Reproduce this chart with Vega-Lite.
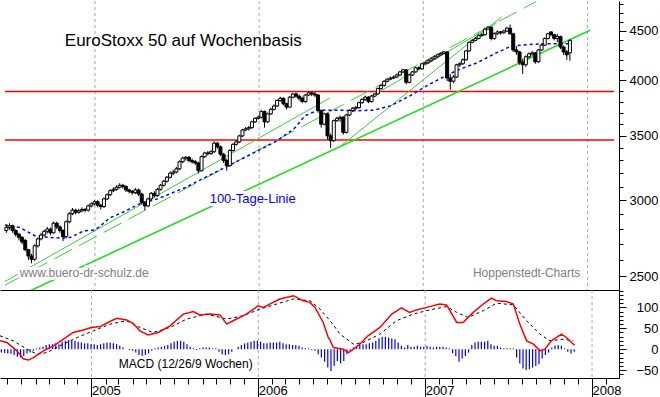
{
  "$schema": "https://vega.github.io/schema/vega-lite/v6.json",
  "padding": 0,
  "spacing": 0,
  "bounds": "flush",
  "background": "white",
  "config": {
    "view": {"stroke": null},
    "font": "Liberation Sans",
    "axis": {"labelFont": "Liberation Sans", "labelFontSize": 13, "labelColor": "black", "domainColor": "black", "tickColor": "black", "grid": false, "labelOverlap": false, "labelFlush": false, "labelBound": false}
  },
  "datasets": {
    "years": [{"d": "2005-01-01"}, {"d": "2006-01-01"}, {"d": "2007-01-01"}, {"d": "2008-01-01"}],
    "levels": [{"v": 3894, "d": "2004-06-15", "d2": "2008-02-29"}, {"v": 3465, "d": "2004-06-15", "d2": "2008-02-29"}],
    "trendMain": [{"d": "2004-07-29", "v": 2401}, {"d": "2008-01-07", "v": 4508}],
    "trendSolid": [
      {"id": "a", "d": "2004-06-15", "v": 2470}, {"id": "a", "d": "2006-06-07", "v": 3832},
      {"id": "c", "d": "2006-07-02", "v": 3418}, {"id": "c", "d": "2007-06-24", "v": 4653},
      {"id": "d", "d": "2006-08-11", "v": 3779}, {"id": "d", "d": "2007-06-13", "v": 4587}
    ],
    "trendDashed": [
      {"id": "b", "d": "2004-06-15", "v": 2448}, {"id": "b", "d": "2007-09-09", "v": 4829}
    ],
    "ma": [
      {"d": "2004-06-15", "v": 2827}, {"d": "2004-07-18", "v": 2811}, {"d": "2004-08-20", "v": 2756}, {"d": "2004-09-18", "v": 2745},
      {"d": "2004-10-20", "v": 2741}, {"d": "2004-11-08", "v": 2745}, {"d": "2004-12-07", "v": 2788}, {"d": "2004-12-29", "v": 2793},
      {"d": "2005-01-09", "v": 2811}, {"d": "2005-02-03", "v": 2876}, {"d": "2005-03-04", "v": 2915}, {"d": "2005-04-10", "v": 2974},
      {"d": "2005-05-20", "v": 3010}, {"d": "2005-07-21", "v": 3093}, {"d": "2005-09-10", "v": 3181}, {"d": "2005-10-31", "v": 3270},
      {"d": "2005-12-06", "v": 3336}, {"d": "2006-01-05", "v": 3390}, {"d": "2006-02-10", "v": 3460}, {"d": "2006-03-19", "v": 3558},
      {"d": "2006-04-13", "v": 3673}, {"d": "2006-05-12", "v": 3723}, {"d": "2006-06-25", "v": 3723}, {"d": "2006-08-01", "v": 3717},
      {"d": "2006-09-13", "v": 3723}, {"d": "2006-10-20", "v": 3761}, {"d": "2006-12-02", "v": 3852}, {"d": "2007-01-15", "v": 3962},
      {"d": "2007-02-20", "v": 4041}, {"d": "2007-03-18", "v": 4097}, {"d": "2007-05-01", "v": 4171}, {"d": "2007-06-13", "v": 4272},
      {"d": "2007-07-16", "v": 4341}, {"d": "2007-08-11", "v": 4352}, {"d": "2007-09-23", "v": 4365}, {"d": "2007-11-24", "v": 4365}
    ],
    "macd": [
      {"d": "2004-06-15", "v": 20}, {"d": "2004-06-30", "v": 16}, {"d": "2004-07-22", "v": -4}, {"d": "2004-08-05", "v": -23},
      {"d": "2004-08-16", "v": -26}, {"d": "2004-08-27", "v": -20}, {"d": "2004-09-18", "v": -4}, {"d": "2004-10-10", "v": 8},
      {"d": "2004-11-01", "v": 24}, {"d": "2004-11-22", "v": 40}, {"d": "2004-12-14", "v": 46}, {"d": "2005-01-01", "v": 52},
      {"d": "2005-01-20", "v": 54}, {"d": "2005-02-03", "v": 62}, {"d": "2005-02-25", "v": 74}, {"d": "2005-03-19", "v": 70},
      {"d": "2005-04-02", "v": 62}, {"d": "2005-04-17", "v": 44}, {"d": "2005-05-05", "v": 34}, {"d": "2005-05-27", "v": 40},
      {"d": "2005-06-22", "v": 56}, {"d": "2005-07-21", "v": 84}, {"d": "2005-08-12", "v": 90}, {"d": "2005-08-26", "v": 82},
      {"d": "2005-09-17", "v": 84}, {"d": "2005-10-09", "v": 82}, {"d": "2005-10-24", "v": 60}, {"d": "2005-11-07", "v": 68},
      {"d": "2005-12-06", "v": 84}, {"d": "2006-01-01", "v": 104}, {"d": "2006-01-12", "v": 100}, {"d": "2006-01-26", "v": 108},
      {"d": "2006-02-17", "v": 120}, {"d": "2006-03-19", "v": 128}, {"d": "2006-04-09", "v": 116}, {"d": "2006-04-24", "v": 112},
      {"d": "2006-05-05", "v": 100}, {"d": "2006-05-23", "v": 64}, {"d": "2006-06-03", "v": 28}, {"d": "2006-06-07", "v": 22},
      {"d": "2006-06-14", "v": 4}, {"d": "2006-07-06", "v": 0}, {"d": "2006-07-17", "v": -8}, {"d": "2006-07-28", "v": 0},
      {"d": "2006-08-11", "v": 12}, {"d": "2006-08-29", "v": 32}, {"d": "2006-09-24", "v": 52}, {"d": "2006-10-20", "v": 84},
      {"d": "2006-11-10", "v": 99}, {"d": "2006-11-28", "v": 88}, {"d": "2006-12-13", "v": 94}, {"d": "2007-01-04", "v": 100},
      {"d": "2007-02-02", "v": 108}, {"d": "2007-02-17", "v": 106}, {"d": "2007-03-11", "v": 64}, {"d": "2007-03-25", "v": 64},
      {"d": "2007-04-16", "v": 88}, {"d": "2007-05-08", "v": 108}, {"d": "2007-05-26", "v": 122}, {"d": "2007-06-06", "v": 116},
      {"d": "2007-06-28", "v": 114}, {"d": "2007-07-13", "v": 108}, {"d": "2007-07-27", "v": 60}, {"d": "2007-08-11", "v": 20},
      {"d": "2007-08-26", "v": 12}, {"d": "2007-09-09", "v": -4}, {"d": "2007-09-20", "v": 0}, {"d": "2007-10-04", "v": 20},
      {"d": "2007-10-26", "v": 36}, {"d": "2007-11-06", "v": 28}, {"d": "2007-11-21", "v": 12}, {"d": "2007-11-24", "v": 10}
    ],
    "signal": [
      {"d": "2004-06-15", "v": 32}, {"d": "2004-07-14", "v": 20}, {"d": "2004-08-13", "v": 0}, {"d": "2004-09-04", "v": -12},
      {"d": "2004-09-26", "v": -8}, {"d": "2004-10-24", "v": 8}, {"d": "2004-12-01", "v": 28}, {"d": "2005-01-05", "v": 44},
      {"d": "2005-02-11", "v": 60}, {"d": "2005-03-19", "v": 68}, {"d": "2005-04-17", "v": 52}, {"d": "2005-05-16", "v": 40},
      {"d": "2005-06-22", "v": 52}, {"d": "2005-07-28", "v": 72}, {"d": "2005-09-10", "v": 84}, {"d": "2005-10-24", "v": 72},
      {"d": "2005-11-29", "v": 80}, {"d": "2006-01-05", "v": 96}, {"d": "2006-02-10", "v": 108}, {"d": "2006-03-19", "v": 120},
      {"d": "2006-04-24", "v": 116}, {"d": "2006-05-16", "v": 96}, {"d": "2006-06-07", "v": 68}, {"d": "2006-06-29", "v": 36},
      {"d": "2006-07-28", "v": 12}, {"d": "2006-08-18", "v": 16}, {"d": "2006-09-24", "v": 36}, {"d": "2006-10-30", "v": 68},
      {"d": "2006-12-06", "v": 84}, {"d": "2007-01-11", "v": 94}, {"d": "2007-02-17", "v": 102}, {"d": "2007-03-11", "v": 88},
      {"d": "2007-04-05", "v": 76}, {"d": "2007-05-08", "v": 92}, {"d": "2007-06-06", "v": 110}, {"d": "2007-07-13", "v": 106},
      {"d": "2007-08-11", "v": 68}, {"d": "2007-09-09", "v": 36}, {"d": "2007-10-01", "v": 20}, {"d": "2007-10-31", "v": 24},
      {"d": "2007-11-21", "v": 20}
    ],
    "candles": [
      {"d":"2004-06-18","o":2790,"h":2830,"l":2775,"c":2810,"hist":-8},
      {"d":"2004-06-25","o":2810,"h":2840,"l":2795,"c":2822,"hist":-9},
      {"d":"2004-07-02","o":2822,"h":2830,"l":2775,"c":2790,"hist":-10},
      {"d":"2004-07-09","o":2790,"h":2800,"l":2750,"c":2765,"hist":-11},
      {"d":"2004-07-16","o":2765,"h":2775,"l":2725,"c":2745,"hist":-14},
      {"d":"2004-07-23","o":2745,"h":2755,"l":2700,"c":2715,"hist":-18},
      {"d":"2004-07-30","o":2725,"h":2735,"l":2655,"c":2665,"hist":-20},
      {"d":"2004-08-06","o":2665,"h":2670,"l":2600,"c":2625,"hist":-16},
      {"d":"2004-08-13","o":2625,"h":2640,"l":2580,"c":2605,"hist":-10},
      {"d":"2004-08-20","o":2605,"h":2700,"l":2595,"c":2690,"hist":-8},
      {"d":"2004-08-27","o":2690,"h":2745,"l":2680,"c":2735,"hist":-4},
      {"d":"2004-09-03","o":2735,"h":2775,"l":2725,"c":2760,"hist":2},
      {"d":"2004-09-10","o":2760,"h":2795,"l":2750,"c":2785,"hist":4},
      {"d":"2004-09-17","o":2785,"h":2815,"l":2770,"c":2800,"hist":6},
      {"d":"2004-09-24","o":2800,"h":2810,"l":2760,"c":2775,"hist":10},
      {"d":"2004-10-01","o":2775,"h":2850,"l":2770,"c":2840,"hist":12},
      {"d":"2004-10-08","o":2840,"h":2850,"l":2800,"c":2815,"hist":12},
      {"d":"2004-10-15","o":2815,"h":2825,"l":2775,"c":2790,"hist":14},
      {"d":"2004-10-22","o":2790,"h":2800,"l":2720,"c":2750,"hist":12},
      {"d":"2004-10-29","o":2750,"h":2860,"l":2740,"c":2850,"hist":18},
      {"d":"2004-11-05","o":2850,"h":2915,"l":2840,"c":2905,"hist":20},
      {"d":"2004-11-12","o":2905,"h":2945,"l":2895,"c":2930,"hist":22},
      {"d":"2004-11-19","o":2930,"h":2940,"l":2900,"c":2915,"hist":20},
      {"d":"2004-11-26","o":2915,"h":2940,"l":2905,"c":2925,"hist":20},
      {"d":"2004-12-03","o":2925,"h":2950,"l":2915,"c":2935,"hist":18},
      {"d":"2004-12-10","o":2935,"h":2945,"l":2915,"c":2930,"hist":16},
      {"d":"2004-12-17","o":2930,"h":2970,"l":2920,"c":2960,"hist":14},
      {"d":"2004-12-24","o":2960,"h":2985,"l":2950,"c":2975,"hist":14},
      {"d":"2004-12-31","o":2975,"h":3000,"l":2965,"c":2990,"hist":12},
      {"d":"2005-01-07","o":2990,"h":3000,"l":2950,"c":2965,"hist":12},
      {"d":"2005-01-14","o":2965,"h":2975,"l":2935,"c":2955,"hist":10},
      {"d":"2005-01-21","o":2955,"h":3020,"l":2945,"c":3010,"hist":12},
      {"d":"2005-01-28","o":3010,"h":3050,"l":3000,"c":3040,"hist":14},
      {"d":"2005-02-04","o":3040,"h":3080,"l":3030,"c":3070,"hist":16},
      {"d":"2005-02-11","o":3070,"h":3095,"l":3060,"c":3080,"hist":16},
      {"d":"2005-02-18","o":3080,"h":3110,"l":3070,"c":3095,"hist":14},
      {"d":"2005-02-25","o":3095,"h":3125,"l":3085,"c":3110,"hist":12},
      {"d":"2005-03-04","o":3110,"h":3120,"l":3085,"c":3100,"hist":8},
      {"d":"2005-03-11","o":3100,"h":3110,"l":3060,"c":3075,"hist":4},
      {"d":"2005-03-18","o":3075,"h":3085,"l":3050,"c":3065,"hist":0},
      {"d":"2005-03-25","o":3065,"h":3075,"l":3040,"c":3055,"hist":-2},
      {"d":"2005-04-01","o":3055,"h":3090,"l":3045,"c":3075,"hist":-4},
      {"d":"2005-04-08","o":3075,"h":3085,"l":3030,"c":3045,"hist":-8},
      {"d":"2005-04-15","o":3045,"h":3055,"l":2970,"c":2985,"hist":-14},
      {"d":"2005-04-22","o":2985,"h":2995,"l":2930,"c":2960,"hist":-16},
      {"d":"2005-04-29","o":2960,"h":3020,"l":2950,"c":3010,"hist":-14},
      {"d":"2005-05-06","o":3010,"h":3060,"l":3000,"c":3050,"hist":-10},
      {"d":"2005-05-13","o":3050,"h":3065,"l":3020,"c":3035,"hist":-4},
      {"d":"2005-05-20","o":3035,"h":3090,"l":3025,"c":3080,"hist":2},
      {"d":"2005-05-27","o":3080,"h":3120,"l":3070,"c":3110,"hist":4},
      {"d":"2005-06-03","o":3110,"h":3150,"l":3100,"c":3140,"hist":6},
      {"d":"2005-06-10","o":3140,"h":3180,"l":3130,"c":3170,"hist":8},
      {"d":"2005-06-17","o":3170,"h":3215,"l":3160,"c":3200,"hist":10},
      {"d":"2005-06-24","o":3200,"h":3225,"l":3185,"c":3210,"hist":14},
      {"d":"2005-07-01","o":3210,"h":3250,"l":3200,"c":3235,"hist":18},
      {"d":"2005-07-08","o":3235,"h":3300,"l":3225,"c":3290,"hist":20},
      {"d":"2005-07-15","o":3290,"h":3330,"l":3280,"c":3320,"hist":20},
      {"d":"2005-07-22","o":3320,"h":3335,"l":3300,"c":3325,"hist":18},
      {"d":"2005-07-29","o":3325,"h":3335,"l":3285,"c":3300,"hist":12},
      {"d":"2005-08-05","o":3300,"h":3315,"l":3275,"c":3290,"hist":6},
      {"d":"2005-08-12","o":3290,"h":3305,"l":3265,"c":3280,"hist":2},
      {"d":"2005-08-19","o":3280,"h":3290,"l":3200,"c":3220,"hist":-2},
      {"d":"2005-08-26","o":3220,"h":3340,"l":3215,"c":3330,"hist":2},
      {"d":"2005-09-02","o":3330,"h":3370,"l":3320,"c":3360,"hist":4},
      {"d":"2005-09-09","o":3360,"h":3375,"l":3340,"c":3355,"hist":4},
      {"d":"2005-09-16","o":3355,"h":3385,"l":3345,"c":3370,"hist":4},
      {"d":"2005-09-23","o":3370,"h":3455,"l":3360,"c":3440,"hist":2},
      {"d":"2005-09-30","o":3440,"h":3450,"l":3395,"c":3410,"hist":2},
      {"d":"2005-10-07","o":3410,"h":3420,"l":3335,"c":3350,"hist":-6},
      {"d":"2005-10-14","o":3350,"h":3360,"l":3280,"c":3300,"hist":-12},
      {"d":"2005-10-21","o":3300,"h":3315,"l":3220,"c":3260,"hist":-14},
      {"d":"2005-10-28","o":3260,"h":3390,"l":3250,"c":3380,"hist":-12},
      {"d":"2005-11-04","o":3380,"h":3440,"l":3370,"c":3430,"hist":-6},
      {"d":"2005-11-11","o":3430,"h":3465,"l":3420,"c":3450,"hist":0},
      {"d":"2005-11-18","o":3450,"h":3510,"l":3440,"c":3500,"hist":6},
      {"d":"2005-11-25","o":3500,"h":3560,"l":3490,"c":3550,"hist":10},
      {"d":"2005-12-02","o":3550,"h":3575,"l":3540,"c":3560,"hist":14},
      {"d":"2005-12-09","o":3560,"h":3585,"l":3545,"c":3570,"hist":16},
      {"d":"2005-12-16","o":3570,"h":3630,"l":3560,"c":3620,"hist":18},
      {"d":"2005-12-23","o":3620,"h":3660,"l":3610,"c":3650,"hist":20},
      {"d":"2005-12-30","o":3650,"h":3675,"l":3640,"c":3660,"hist":20},
      {"d":"2006-01-06","o":3660,"h":3725,"l":3650,"c":3710,"hist":18},
      {"d":"2006-01-13","o":3710,"h":3720,"l":3570,"c":3620,"hist":14},
      {"d":"2006-01-20","o":3620,"h":3700,"l":3610,"c":3690,"hist":14},
      {"d":"2006-01-27","o":3690,"h":3745,"l":3680,"c":3730,"hist":16},
      {"d":"2006-02-03","o":3730,"h":3775,"l":3720,"c":3760,"hist":16},
      {"d":"2006-02-10","o":3760,"h":3820,"l":3750,"c":3810,"hist":16},
      {"d":"2006-02-17","o":3810,"h":3845,"l":3800,"c":3830,"hist":18},
      {"d":"2006-02-24","o":3830,"h":3840,"l":3765,"c":3780,"hist":14},
      {"d":"2006-03-03","o":3780,"h":3790,"l":3730,"c":3750,"hist":12},
      {"d":"2006-03-10","o":3750,"h":3850,"l":3745,"c":3840,"hist":12},
      {"d":"2006-03-17","o":3840,"h":3880,"l":3830,"c":3870,"hist":10},
      {"d":"2006-03-24","o":3870,"h":3885,"l":3835,"c":3850,"hist":10},
      {"d":"2006-03-31","o":3850,"h":3865,"l":3810,"c":3830,"hist":8},
      {"d":"2006-04-07","o":3830,"h":3845,"l":3785,"c":3800,"hist":4},
      {"d":"2006-04-14","o":3800,"h":3870,"l":3790,"c":3860,"hist":2},
      {"d":"2006-04-21","o":3860,"h":3892,"l":3850,"c":3880,"hist":2},
      {"d":"2006-04-28","o":3880,"h":3890,"l":3850,"c":3870,"hist":-2},
      {"d":"2006-05-05","o":3870,"h":3890,"l":3840,"c":3860,"hist":-4},
      {"d":"2006-05-12","o":3860,"h":3870,"l":3700,"c":3720,"hist":-12},
      {"d":"2006-05-19","o":3720,"h":3730,"l":3570,"c":3600,"hist":-20},
      {"d":"2006-05-26","o":3600,"h":3700,"l":3590,"c":3690,"hist":-30},
      {"d":"2006-06-02","o":3690,"h":3700,"l":3470,"c":3500,"hist":-44},
      {"d":"2006-06-09","o":3500,"h":3520,"l":3400,"c":3460,"hist":-52},
      {"d":"2006-06-16","o":3460,"h":3640,"l":3450,"c":3630,"hist":-40},
      {"d":"2006-06-23","o":3630,"h":3665,"l":3620,"c":3650,"hist":-28},
      {"d":"2006-06-30","o":3650,"h":3675,"l":3620,"c":3660,"hist":-34},
      {"d":"2006-07-07","o":3660,"h":3670,"l":3510,"c":3530,"hist":-28},
      {"d":"2006-07-14","o":3530,"h":3690,"l":3520,"c":3680,"hist":-12},
      {"d":"2006-07-21","o":3680,"h":3730,"l":3670,"c":3720,"hist":-4},
      {"d":"2006-07-28","o":3720,"h":3750,"l":3705,"c":3740,"hist":4},
      {"d":"2006-08-04","o":3740,"h":3760,"l":3720,"c":3745,"hist":8},
      {"d":"2006-08-11","o":3745,"h":3800,"l":3735,"c":3790,"hist":10},
      {"d":"2006-08-18","o":3790,"h":3830,"l":3780,"c":3820,"hist":12},
      {"d":"2006-08-25","o":3820,"h":3855,"l":3810,"c":3840,"hist":12},
      {"d":"2006-09-01","o":3840,"h":3850,"l":3785,"c":3800,"hist":14},
      {"d":"2006-09-08","o":3800,"h":3860,"l":3790,"c":3850,"hist":16},
      {"d":"2006-09-15","o":3850,"h":3880,"l":3840,"c":3870,"hist":20},
      {"d":"2006-09-22","o":3870,"h":3930,"l":3860,"c":3920,"hist":26},
      {"d":"2006-09-29","o":3920,"h":3960,"l":3910,"c":3950,"hist":30},
      {"d":"2006-10-06","o":3950,"h":4000,"l":3940,"c":3990,"hist":30},
      {"d":"2006-10-13","o":3990,"h":4020,"l":3980,"c":4010,"hist":28},
      {"d":"2006-10-20","o":4010,"h":4035,"l":4000,"c":4020,"hist":26},
      {"d":"2006-10-27","o":4020,"h":4045,"l":4010,"c":4030,"hist":24},
      {"d":"2006-11-03","o":4030,"h":4065,"l":4020,"c":4050,"hist":16},
      {"d":"2006-11-10","o":4050,"h":4090,"l":4040,"c":4080,"hist":8},
      {"d":"2006-11-17","o":4080,"h":4110,"l":4070,"c":4100,"hist":4},
      {"d":"2006-11-24","o":4100,"h":4105,"l":3960,"c":3980,"hist":10},
      {"d":"2006-12-01","o":3980,"h":4060,"l":3970,"c":4050,"hist":6},
      {"d":"2006-12-08","o":4050,"h":4090,"l":4040,"c":4080,"hist":6},
      {"d":"2006-12-15","o":4080,"h":4130,"l":4070,"c":4120,"hist":8},
      {"d":"2006-12-22","o":4120,"h":4135,"l":4095,"c":4110,"hist":6},
      {"d":"2006-12-29","o":4110,"h":4170,"l":4100,"c":4160,"hist":6},
      {"d":"2007-01-05","o":4160,"h":4185,"l":4150,"c":4170,"hist":8},
      {"d":"2007-01-12","o":4170,"h":4205,"l":4160,"c":4190,"hist":6},
      {"d":"2007-01-19","o":4190,"h":4225,"l":4180,"c":4210,"hist":4},
      {"d":"2007-01-26","o":4210,"h":4245,"l":4200,"c":4230,"hist":6},
      {"d":"2007-02-02","o":4230,"h":4262,"l":4220,"c":4250,"hist":6},
      {"d":"2007-02-09","o":4250,"h":4275,"l":4240,"c":4265,"hist":6},
      {"d":"2007-02-16","o":4265,"h":4290,"l":4255,"c":4280,"hist":4},
      {"d":"2007-02-23","o":4280,"h":4285,"l":3990,"c":4020,"hist":2},
      {"d":"2007-03-02","o":4020,"h":4060,"l":3910,"c":3990,"hist":-10},
      {"d":"2007-03-09","o":3990,"h":4050,"l":3970,"c":4030,"hist":-16},
      {"d":"2007-03-16","o":4030,"h":4160,"l":4020,"c":4150,"hist":-30},
      {"d":"2007-03-23","o":4150,"h":4175,"l":4130,"c":4160,"hist":-22},
      {"d":"2007-03-30","o":4160,"h":4215,"l":4150,"c":4200,"hist":-16},
      {"d":"2007-04-06","o":4200,"h":4300,"l":4190,"c":4290,"hist":-8},
      {"d":"2007-04-13","o":4290,"h":4390,"l":4280,"c":4380,"hist":10},
      {"d":"2007-04-20","o":4380,"h":4415,"l":4370,"c":4400,"hist":16},
      {"d":"2007-04-27","o":4400,"h":4435,"l":4390,"c":4420,"hist":18},
      {"d":"2007-05-04","o":4420,"h":4465,"l":4410,"c":4450,"hist":18},
      {"d":"2007-05-11","o":4450,"h":4475,"l":4440,"c":4460,"hist":18},
      {"d":"2007-05-18","o":4460,"h":4535,"l":4450,"c":4520,"hist":20},
      {"d":"2007-05-25","o":4520,"h":4555,"l":4510,"c":4540,"hist":12},
      {"d":"2007-06-01","o":4540,"h":4550,"l":4400,"c":4420,"hist":8},
      {"d":"2007-06-08","o":4420,"h":4485,"l":4405,"c":4470,"hist":8},
      {"d":"2007-06-15","o":4470,"h":4505,"l":4460,"c":4490,"hist":4},
      {"d":"2007-06-22","o":4490,"h":4500,"l":4460,"c":4480,"hist":2},
      {"d":"2007-06-29","o":4480,"h":4515,"l":4470,"c":4500,"hist":2},
      {"d":"2007-07-06","o":4500,"h":4545,"l":4490,"c":4530,"hist":2},
      {"d":"2007-07-13","o":4530,"h":4570,"l":4460,"c":4470,"hist":2},
      {"d":"2007-07-20","o":4470,"h":4480,"l":4280,"c":4300,"hist":-20},
      {"d":"2007-07-27","o":4300,"h":4340,"l":4250,"c":4280,"hist":-34},
      {"d":"2007-08-03","o":4280,"h":4290,"l":4150,"c":4170,"hist":-46},
      {"d":"2007-08-10","o":4170,"h":4210,"l":4060,"c":4150,"hist":-50},
      {"d":"2007-08-17","o":4150,"h":4245,"l":4130,"c":4230,"hist":-48},
      {"d":"2007-08-24","o":4230,"h":4275,"l":4215,"c":4260,"hist":-44},
      {"d":"2007-08-31","o":4260,"h":4290,"l":4240,"c":4270,"hist":-40},
      {"d":"2007-09-07","o":4270,"h":4280,"l":4160,"c":4180,"hist":-36},
      {"d":"2007-09-14","o":4180,"h":4310,"l":4170,"c":4300,"hist":-22},
      {"d":"2007-09-21","o":4300,"h":4365,"l":4290,"c":4350,"hist":-14},
      {"d":"2007-09-28","o":4350,"h":4430,"l":4340,"c":4420,"hist":-8},
      {"d":"2007-10-05","o":4420,"h":4480,"l":4410,"c":4470,"hist":4},
      {"d":"2007-10-12","o":4490,"h":4495,"l":4445,"c":4460,"hist":8},
      {"d":"2007-10-19","o":4460,"h":4470,"l":4400,"c":4420,"hist":10},
      {"d":"2007-10-26","o":4420,"h":4470,"l":4380,"c":4440,"hist":8},
      {"d":"2007-11-02","o":4440,"h":4450,"l":4310,"c":4330,"hist":2},
      {"d":"2007-11-09","o":4330,"h":4345,"l":4250,"c":4280,"hist":-6},
      {"d":"2007-11-16","o":4280,"h":4300,"l":4200,"c":4250,"hist":-10},
      {"d":"2007-11-23","o":4270,"h":4410,"l":4190,"c":4400,"hist":-6}
    ]
  },
  "vconcat": [
    {
      "width": 619,
      "height": 289,
      "encoding": {
        "x": {
          "field": "d", "type": "temporal",
          "scale": {"type": "utc", "domain": [{"year": 2004, "month": 6, "date": 15, "utc": true}, {"year": 2008, "month": 2, "date": 29, "utc": true}]},
          "axis": {"orient": "bottom", "ticks": false, "labels": false, "domain": true, "domainColor": "black", "grid": false, "title": null}
        }
      },
      "layer": [
        {"data": {"name": "years"}, "mark": {"type": "rule", "color": "#a8a8a8", "strokeDash": [3, 3], "strokeWidth": 1}},
        {"data": {"name": "levels"}, "mark": {"type": "rule", "color": "#ff0000", "strokeWidth": 1.5},
         "encoding": {"x2": {"field": "d2"}, "y": {"field": "v", "type": "quantitative", "scale": {"type": "log", "domain": [2420, 4835], "nice": false}}}},
        {"data": {"name": "trendSolid"}, "mark": {"type": "line", "color": "#3ccc3c", "strokeWidth": 1, "clip": true},
         "encoding": {"detail": {"field": "id", "type": "nominal"}, "y": {"field": "v", "type": "quantitative", "scale": {"type": "log", "domain": [2420, 4835], "nice": false}}}},
        {"data": {"name": "trendDashed"}, "mark": {"type": "line", "color": "#3ccc3c", "strokeWidth": 1, "strokeDash": [20, 8], "clip": true},
         "encoding": {"detail": {"field": "id", "type": "nominal"}, "y": {"field": "v", "type": "quantitative", "scale": {"type": "log", "domain": [2420, 4835], "nice": false}}}},
        {"data": {"name": "trendMain"}, "mark": {"type": "line", "color": "#22dd22", "strokeWidth": 1.6, "clip": true},
         "encoding": {"y": {"field": "v", "type": "quantitative", "scale": {"type": "log", "domain": [2420, 4835], "nice": false}}}},
        {"data": {"name": "ma"}, "mark": {"type": "line", "color": "#0000ff", "strokeWidth": 1.5, "strokeDash": [3, 3], "clip": true},
         "encoding": {"y": {"field": "v", "type": "quantitative", "scale": {"type": "log", "domain": [2420, 4835], "nice": false}}}},
        {"data": {"values": [{"t": "www.buero-dr-schulz.de", "d": "2004-07-18", "v": 2494}]},
         "mark": {"type": "text", "align": "left", "baseline": "alphabetic", "fontSize": 12, "font": "Liberation Sans", "fill": "white", "stroke": "white", "strokeWidth": 6},
         "encoding": {"text": {"field": "t", "type": "nominal"}, "y": {"field": "v", "type": "quantitative", "scale": {"type": "log", "domain": [2420, 4835], "nice": false}}}},
        {"data": {"values": [{"t": "100-Tage-Linie", "d": "2005-09-13", "v": 2982}]},
         "mark": {"type": "text", "align": "left", "baseline": "alphabetic", "fontSize": 13, "font": "Liberation Sans", "fill": "white", "stroke": "white", "strokeWidth": 6},
         "encoding": {"text": {"field": "t", "type": "nominal"}, "y": {"field": "v", "type": "quantitative", "scale": {"type": "log", "domain": [2420, 4835], "nice": false}}}},
        {"data": {"name": "candles"}, "mark": {"type": "rule", "color": "black", "strokeWidth": 1, "clip": true},
         "encoding": {
           "y": {"field": "l", "type": "quantitative", "scale": {"type": "log", "domain": [2420, 4835], "nice": false},
                 "axis": {"orient": "right", "values": [2500, 2600, 2700, 2800, 2900, 3000, 3100, 3200, 3300, 3400, 3500, 3600, 3700, 3800, 3900, 4000, 4100, 4200, 4300, 4400, 4500, 4600, 4700, 4800],
                          "tickCount": 100,
                          "tickSize": {"condition": {"test": "datum.value % 500 == 0", "value": 7}, "value": 4},
                          "labelFontSize": {"condition": {"test": "datum.value % 500 == 0", "value": 13}, "value": 0},
                          "labelExpr": "datum.value % 500 == 0 ? format(datum.value, 'd') : ''",
                          "labelOverlap": false, "labelBound": false,
                          "labelAlign": "right", "labelBaseline": "middle", "labelPadding": 32, "title": null, "grid": false, "domain": true, "domainColor": "black"}},
           "y2": {"field": "h"}
         }},
        {"data": {"name": "candles"}, "mark": {"type": "bar", "width": 3, "stroke": "black", "strokeWidth": 1, "clip": true},
         "encoding": {
           "y": {"field": "o", "type": "quantitative", "scale": {"type": "log", "domain": [2420, 4835], "nice": false}},
           "y2": {"field": "c"},
           "fill": {"condition": {"test": "datum.c >= datum.o", "value": "white"}, "value": "black"}
         }},
        {"data": {"values": [{"t": "EuroStoxx 50 auf Wochenbasis", "d": "2004-10-26", "v": 4341}]},
         "mark": {"type": "text", "align": "left", "baseline": "alphabetic", "fontSize": 17, "font": "Liberation Sans", "color": "black"},
         "encoding": {"text": {"field": "t", "type": "nominal"}, "y": {"field": "v", "type": "quantitative", "scale": {"type": "log", "domain": [2420, 4835], "nice": false}}}},
        {"data": {"values": [{"t": "100-Tage-Linie", "d": "2005-09-13", "v": 2982}]},
         "mark": {"type": "text", "align": "left", "baseline": "alphabetic", "fontSize": 13, "font": "Liberation Sans", "color": "#0000ff"},
         "encoding": {"text": {"field": "t", "type": "nominal"}, "y": {"field": "v", "type": "quantitative", "scale": {"type": "log", "domain": [2420, 4835], "nice": false}}}},
        {"data": {"values": [{"t": "www.buero-dr-schulz.de", "d": "2004-07-18", "v": 2494}]},
         "mark": {"type": "text", "align": "left", "baseline": "alphabetic", "fontSize": 12, "font": "Liberation Sans", "color": "#808080"},
         "encoding": {"text": {"field": "t", "type": "nominal"}, "y": {"field": "v", "type": "quantitative", "scale": {"type": "log", "domain": [2420, 4835], "nice": false}}}},
        {"data": {"values": [{"t": "Hoppenstedt-Charts", "d": "2007-12-16", "v": 2494}]},
         "mark": {"type": "text", "align": "right", "baseline": "alphabetic", "fontSize": 12, "font": "Liberation Sans", "color": "#808080"},
         "encoding": {"text": {"field": "t", "type": "nominal"}, "y": {"field": "v", "type": "quantitative", "scale": {"type": "log", "domain": [2420, 4835], "nice": false}}}}
      ]
    },
    {
      "width": 619,
      "height": 88,
      "encoding": {
        "x": {
          "field": "d", "type": "temporal",
          "scale": {"type": "utc", "domain": [{"year": 2004, "month": 6, "date": 15, "utc": true}, {"year": 2008, "month": 2, "date": 29, "utc": true}]},
          "axis": {"orient": "bottom", "tickCount": {"interval": "month", "step": 1},
                   "tickSize": {"condition": {"test": "utcmonth(datum.value) == 0", "value": 20}, "value": 6},
                   "labelFontSize": {"condition": {"test": "utcmonth(datum.value) == 0", "value": 13}, "value": 0},
                   "labelExpr": "utcmonth(datum.value) == 0 ? utcFormat(datum.value, '%Y') : ''",
                   "labelOverlap": false, "labelBound": false, "labelFlush": false,
                   "labelAlign": "left", "labelBaseline": "alphabetic", "labelPadding": -4,
                   "domain": true, "domainColor": "black", "grid": false, "title": null}
        }
      },
      "layer": [
        {"data": {"name": "years"}, "mark": {"type": "rule", "color": "#a8a8a8", "strokeDash": [3, 3], "strokeWidth": 1}},
        {"data": {"name": "candles"}, "mark": {"type": "rule", "color": "#0000ff", "strokeWidth": 1.2, "clip": true},
         "encoding": {
           "y": {"field": "hist", "type": "quantitative", "scale": {"domain": [-68.9, 141.6], "nice": false, "zero": false},
                 "axis": {"orient": "right", "values": [-60, -50, -40, -30, -20, -10, 0, 10, 20, 30, 40, 50, 60, 70, 80, 90, 100, 110, 120, 130, 140],
                          "tickCount": 100,
                          "tickSize": {"condition": {"test": "datum.value % 50 == 0", "value": 7}, "value": 4},
                          "labelFontSize": {"condition": {"test": "datum.value % 50 == 0", "value": 13}, "value": 0},
                          "labelExpr": "datum.value % 50 == 0 ? format(datum.value, 'd') : ''",
                          "labelOverlap": false, "labelBound": false,
                          "labelAlign": "right", "labelBaseline": "middle", "labelPadding": 32, "title": null, "grid": false, "domain": true, "domainColor": "black"}},
           "y2": {"datum": 0}
         }},
        {"data": {"name": "signal"}, "mark": {"type": "line", "color": "black", "strokeWidth": 1, "strokeDash": [3, 3], "clip": true},
         "encoding": {"y": {"field": "v", "type": "quantitative", "scale": {"domain": [-68.9, 141.6], "nice": false, "zero": false}}}},
        {"data": {"name": "macd"}, "mark": {"type": "line", "color": "#ff0000", "strokeWidth": 1.5, "clip": true},
         "encoding": {"y": {"field": "v", "type": "quantitative", "scale": {"domain": [-68.9, 141.6], "nice": false, "zero": false}}}},
        {"data": {"values": [{"t": "MACD (12/26/9 Wochen)", "d": "2005-03-02", "v": -44.3}]},
         "mark": {"type": "text", "align": "left", "baseline": "alphabetic", "fontSize": 12, "font": "Liberation Sans", "color": "black"},
         "encoding": {"text": {"field": "t", "type": "nominal"}, "y": {"field": "v", "type": "quantitative", "scale": {"domain": [-68.9, 141.6], "nice": false, "zero": false}}}}
      ]
    }
  ]
}
